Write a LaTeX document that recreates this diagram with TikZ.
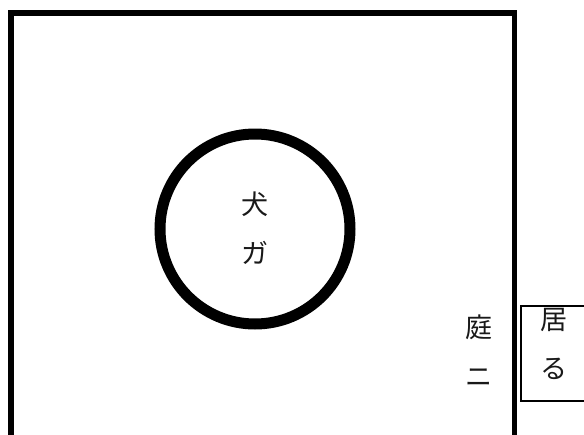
\documentclass[tikz,border=0pt]{standalone}
\usepackage{fontspec}
\newfontfamily\cjk{Noto Sans CJK JP}
\begin{document}
\begin{tikzpicture}[x=1pt,y=-1pt,
  jtext/.style={font=\cjk\fontsize{27}{49}\selectfont, align=center, inner sep=0pt, text=black!90}]
\useasboundingbox (0,0) rectangle (584,434);
\clip (0,0) rectangle (584,434);
% big yard frame (bottom open beyond the picture)
\coordinate (bl) at (11,445);
\coordinate (tl) at (11,13);
\coordinate (tr) at (514.5,13);
\coordinate (br) at (514.5,445);
\draw[line width=5.5pt, line join=miter] (bl) -- (tl) -- (tr) -- (br);
% dog circle
\node[circle, draw, line width=11pt, minimum size=190pt, inner sep=0pt] (dog) at (255,229) {};
\node[jtext] (dogtxt) at (255,228) {犬\\ガ};
% garden label
\node[jtext] (niwa) at (479,351) {庭\\ニ};
% small box
\draw[line width=2pt] (590,306) -- (521,306) -- (521,401) -- (590,401);
\node[jtext] (iru) at (554,344) {居\\る};
\end{tikzpicture}
\end{document}
